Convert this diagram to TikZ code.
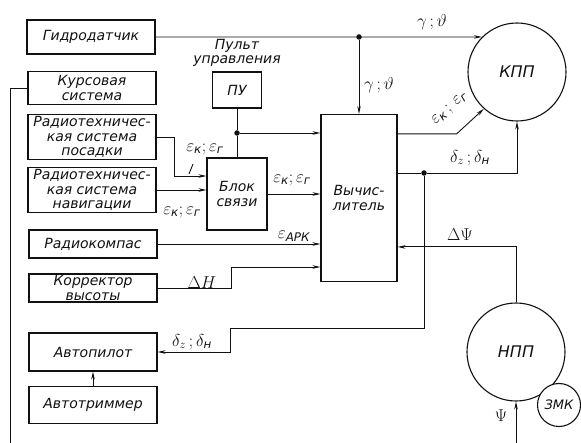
\documentclass[tikz,border=0pt]{standalone}
\usepackage{amsmath}
\usepackage{fontspec}
\setmainfont{DejaVu Sans}
\usepackage{tikz}
\usetikzlibrary{
    arrows.meta, positioning, calc
}
\definecolor{ink}{HTML}{111111}

\begin{document}
\begin{tikzpicture}[
    x=1pt, y=-1pt,
    block/.style={
        rectangle, draw=ink, line width=1.1pt, text=ink,
        font=\fontsize{14}{14.5}\selectfont\itshape, align=center,
        minimum width=128pt, inner sep=1pt,
    },
    unit/.style={
        circle, draw=ink, line width=1.1pt, text=ink, fill=white,
        font=\fontsize{16}{17}\selectfont\itshape, minimum size=98pt, inner sep=0pt,
    },
    sig/.style={font=\fontsize{17}{18}\selectfont\itshape, text=ink, inner sep=1pt},
    dot/.style={circle, fill=ink, inner sep=0pt, minimum size=5.5pt},
    wire/.style={draw=ink, line width=0.9pt},
    conn/.style={draw=ink, line width=0.9pt, -{Stealth[length=8pt, width=3.5pt]}},
]
\useasboundingbox (0,0) rectangle (581,443);

% Sensors and sources
\node[block, minimum height=34pt] (gidro)     at (91, 37)  {Гидродатчик};
\node[block, minimum height=33pt] (kurs)      at (92, 88)  {Курсовая\\система};
\node[block, minimum height=45pt] (posad)     at (92, 137) {Радиотехничес-\\кая система\\посадки};
\node[block, minimum height=45pt] (navig)     at (92, 190) {Радиотехничес-\\кая система\\навигации};
\node[block, minimum height=28pt] (radiokomp) at (93, 244) {Радиокомпас};
\node[block, minimum height=28pt] (korr)      at (93, 288) {Корректор\\высоты};
\node[block, minimum height=38pt] (autop)     at (93, 352) {Автопилот};
\node[block, minimum height=37pt] (autotrim)  at (93, 405) {Автотриммер};

% Control panel, coupling unit, computer
\node[block, minimum width=49pt, minimum height=36pt] (pu) at (237, 90) {ПУ};
\node[block, draw=none, minimum width=0pt, above=3pt of pu] (pulabel) {Пульт\\управления};
\node[block, minimum width=60pt, minimum height=72pt] (blok) at (237, 194) {Блок\\связи};
\node[block, minimum width=76pt, minimum height=167pt] (vych) at (359, 198) {Вычис-\\литель};

% Instruments
\node[unit] (kpp) at (517, 72)  {КПП};
\node[unit] (npp) at (516, 352) {НПП};
\node[unit, minimum size=43pt, font=\fontsize{13}{14}\selectfont\itshape] (zmk) at (559, 405) {ЗМК};

% Branch points
\node[dot] (d1) at (359, 37)  {};
\node[dot] (d2) at (237, 133) {};
\node[dot] (d3) at (424, 173) {};
\coordinate (hbend) at (231, 267);
\coordinate (kbend) at (10, 452);
\coordinate (pbend) at (516, 452);

% Connectors
\draw[conn] (gidro.east) -- (kpp.135);
\draw[conn] (d1) -- (d1 |- vych.north);
\draw[wire] (pu.south) -- (d2);
\draw[wire] (d2) -- (blok.north);
\draw[conn] (d2) -- (d2 -| vych.west);
\draw[conn] (posad.east) -- ++(18,0) |- ($(blok.west)+(0,-18)$);
\draw[wire] (189,174) -- (193,164);
\draw[conn] (navig.east) -- (navig.east -| blok.west);
\draw[conn] (blok.east) -- (blok.east -| vych.west);
\draw[conn] (radiokomp.east) -- (radiokomp.east -| vych.west);
\draw[conn] (korr.east) -| (hbend) -- (hbend -| vych.west);
\draw[conn] ($(vych.north east)+(0,20)$) -- ++(59,0) -- (kpp.228);
\draw[wire] (d3 -| vych.east) -- (d3);
\draw[conn] (d3) -| (kpp.south);
\draw[conn] (d3) |- (230, 328) |- (autop.east);
\draw[conn] (npp.north) |- ($(vych.north east)+(0,133)$);
\draw[conn] (autotrim.north) -- (autop.south);
\draw[conn] (kurs.west) -| (kbend) -- (pbend) -- (npp.south);

% Signal labels
\node[sig] (lgt1) at (432, 22)  {$\gamma\,;\vartheta$};
\node[sig] (lgt2) at (379, 85)  {$\gamma\,;\vartheta$};
\node[sig, rotate=42] (lek1) at (450, 109) {$\varepsilon_\text{к}\,;\,\varepsilon_\text{г}$};
\node[sig] (ldl1) at (470, 158) {$\delta_z\,;\delta_\text{н}$};
\node[sig] (lek2) at (205, 149) {$\varepsilon_\text{к};\varepsilon_\text{г}$};
\node[sig] (lek3) at (182, 212) {$\varepsilon_\text{к};\varepsilon_\text{г}$};
\node[sig] (lek4) at (292, 180) {$\varepsilon_\text{к};\varepsilon_\text{г}$};
\node[sig] (lark) at (294, 236) {$\varepsilon_\text{АРК}$};
\node[sig] (ldh)  at (202, 283) {$\Delta H$};
\node[sig] (ldl2) at (192, 342) {$\delta_z\,;\delta_\text{н}$};
\node[sig] (ldp)  at (460, 235) {$\Delta\Psi$};
\node[sig] (lpsi) at (501, 416) {$\Psi$};

\end{tikzpicture}
\end{document}
